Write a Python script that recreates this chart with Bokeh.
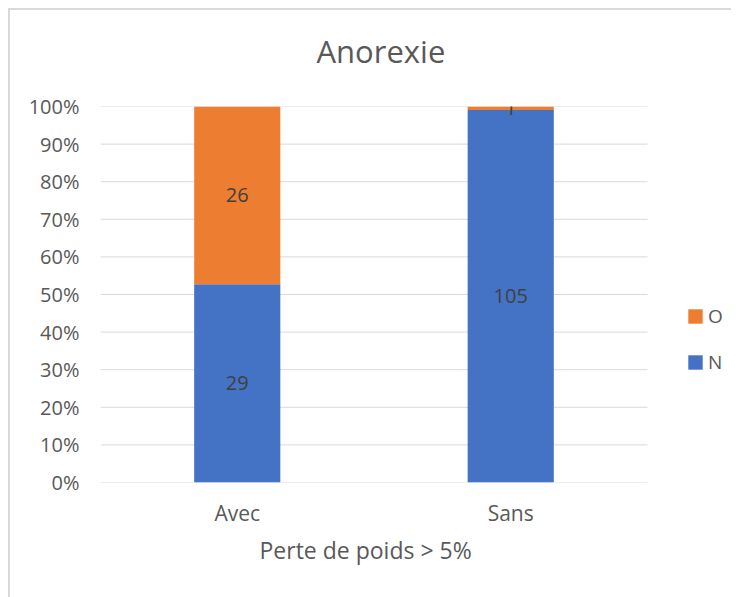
from bokeh.plotting import figure
from bokeh.models import (ColumnDataSource, NumeralTickFormatter, Legend, LegendItem, LabelSet,
                          FixedTicker, Range1d, Title)
from bokeh.core.properties import value
from bokeh.embed import file_html
from bokeh.resources import INLINE

categories = ["Avec", "Sans"]
series_names = ["N", "O"]
n_counts = [29, 105]
o_counts = [26, 1]
y_ticks = [0, 0.1, 0.2, 0.3, 0.4, 0.5, 0.6, 0.7, 0.8, 0.9, 1.0]
title_text = "Anorexie"
x_title = "Perte de poids > 5%"

FONT = "Open Sans"
TXT = "#595959"
GRID = "#d9d9d9"
totals = [a + b for a, b in zip(n_counts, o_counts)]
n_frac = [a / t for a, t in zip(n_counts, totals)]
o_frac = [b / t for b, t in zip(o_counts, totals)]
xpos = [i + 0.5 for i in range(len(categories))]
ncat = len(categories)

src = ColumnDataSource(dict(
    x=xpos, N=n_frac, O=o_frac,
    n_lab=[str(v) for v in n_counts], o_lab=[str(v) for v in o_counts],
    n_mid=[f / 2 for f in n_frac],
    o_mid=[n + o / 2 for n, o in zip(n_frac, o_frac)],
))
grid_src = ColumnDataSource(dict(x0=[0] * len(y_ticks), x1=[ncat] * len(y_ticks), y=y_ticks))

p = figure(x_range=Range1d(0, 2.278), y_range=Range1d(0, 1), width=715, height=579,
           output_backend="svg", toolbar_location=None,
           min_border_left=90, min_border_right=2, min_border_top=96, min_border_bottom=107)
p.title_location = None

p.outline_line_color = None
p.border_fill_color = "white"
p.background_fill_color = "white"
p.xgrid.grid_line_color = None
p.ygrid.grid_line_color = None

p.segment(x0="x0", x1="x1", y0="y", y1="y", source=grid_src, line_color=GRID, line_width=1)

r = p.vbar_stack(["N", "O"], x="x", width=0.315, source=src,
                 color=["#4472C4", "#ED7D31"], line_color=None)

for ycol, tcol in (("n_mid", "n_lab"), ("o_mid", "o_lab")):
    p.add_layout(LabelSet(x="x", y=ycol, text=tcol, source=src, text_align="center",
                          text_baseline="middle", text_font=value(FONT), text_font_size=value("20px"),
                          text_color="#404040"))

spacer = Title(text=" ", text_font_size="1px", standoff=32)
p.add_layout(spacer, "above")
main_title = Title(text=title_text, align="left", offset=216, text_font=FONT, text_font_size="31px",
                   text_font_style="normal", text_color=TXT, standoff=0)
p.add_layout(main_title, "above")

p.yaxis.ticker = FixedTicker(ticks=y_ticks)
p.yaxis.formatter = NumeralTickFormatter(format="0%")
p.yaxis.axis_line_color = None
p.yaxis.major_tick_line_color = None
p.yaxis.minor_tick_line_color = None
p.yaxis.major_label_text_font = FONT
p.yaxis.major_label_text_font_size = "20px"
p.yaxis.major_label_text_color = TXT
p.yaxis.major_label_standoff = 15

p.xaxis.ticker = FixedTicker(ticks=xpos)
p.xaxis.major_label_overrides = {x: c for x, c in zip(xpos, categories)}
p.xaxis.axis_line_color = None
p.xaxis.major_tick_line_color = None
p.xaxis.minor_tick_line_color = None
p.xaxis.major_label_text_font = FONT
p.xaxis.major_label_text_font_size = "21px"
p.xaxis.major_label_text_color = TXT
p.xaxis.major_label_standoff = 10

xt = Title(text=x_title, align="left", offset=159, text_font=FONT, text_font_size="23px",
           text_font_style="normal", text_color=TXT, standoff=4)
p.add_layout(xt, "below")

legend = Legend(items=[LegendItem(label="O", renderers=[r[1]]),
                       LegendItem(label="N", renderers=[r[0]])],
                location=(586, 107), orientation="vertical",
                glyph_width=18, glyph_height=18, label_height=22, spacing=20,
                padding=0, margin=0, border_line_color=None, background_fill_alpha=0,
                label_text_font=FONT, label_text_font_size="19px", label_text_color=TXT,
                label_standoff=4)
p.add_layout(legend)

html = file_html(p, INLINE)
html = html.replace("<body>", '<body style="margin:8px; border-left:2px solid #d9d9d9; '
                    'border-top:2px solid #d9d9d9">')
open("out.html", "w").write(html)
